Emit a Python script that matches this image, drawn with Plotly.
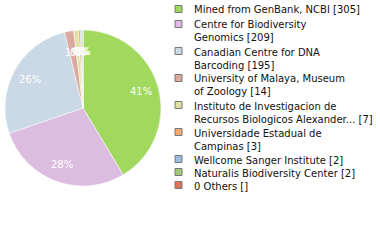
import math
import plotly.graph_objects as go

labels = ["Mined from GenBank, NCBI", "Centre for Biodiversity<br>Genomics",
          "Canadian Centre for DNA<br>Barcoding", "University of Malaya, Museum<br>of Zoology",
          "Instituto de Investigacion de<br>Recursos Biologicos Alexander...",
          "Universidade Estadual de<br>Campinas", "Wellcome Sanger Institute",
          "Naturalis Biodiversity Center", "0 Others"]
values = [305, 209, 195, 14, 7, 3, 2, 2, 0]
counts_txt = ["305", "209", "195", "14", "7", "3", "2", "2", ""]
colors = ["#a0d95e", "#dcbddf", "#cad9e5", "#dca9a1", "#dee2a2", "#f0aa73",
          "#9dbde0", "#a3c97d", "#e0735a"]

total = sum(values)

# pie geometry (pixels)
W, H = 380, 240
CX, CY, R = 83, 108, 78

fig = go.Figure()
fig.add_trace(go.Pie(
    labels=[l.replace("<br>", " ") for l in labels], values=values, sort=False,
    direction="clockwise", rotation=0,
    marker=dict(colors=colors, line=dict(color="white", width=0.5)),
    textinfo="none",
    domain=dict(x=[(CX-R)/W, (CX+R)/W], y=[1-(CY+R)/H, 1-(CY-R)/H]),
    showlegend=False, hoverinfo="label+value",
))

annotations = []
# percentage labels placed along each slice's mid-angle (floored percent)
cum = 0
for v in values:
    if v > 0:
        frac = v / total
        mid = (cum + v / 2) / total * 2 * math.pi
        r = (0.77 if frac > 0.05 else 0.72) * R
        px = CX + r * math.sin(mid)
        py = CY - r * math.cos(mid)
        annotations.append(dict(x=px/W, y=1-py/H, xref="paper", yref="paper",
                                xanchor="center", yanchor="middle", showarrow=False,
                                text=f"{math.floor(100*frac)}%",
                                font=dict(family="DejaVu Sans", size=10, color="white")))
    cum += v

# manual legend
y = 9
shapes = []
for lab, cnt, col in zip(labels, counts_txt, colors):
    nlines = lab.count("<br>") + 1
    shapes.append(dict(type="rect", xref="paper", yref="paper",
                       x0=175/W, x1=182/W, y0=1-(y+3.5)/H, y1=1-(y-3.5)/H,
                       fillcolor=col, line=dict(color="#777777", width=1)))
    annotations.append(dict(x=192/W, y=1-(y-6.5)/H, xref="paper", yref="paper",
                            xanchor="left", yanchor="top", showarrow=False, align="left",
                            text=f"{lab} [{cnt}]",
                            font=dict(family="DejaVu Sans", size=10, color="#111111")))
    y += 15 if nlines == 1 and y < 20 else (27 if nlines == 2 else 13)

fig.update_layout(width=W, height=H, margin=dict(l=0, r=0, t=0, b=0),
                  paper_bgcolor="white", plot_bgcolor="white",
                  shapes=shapes, annotations=annotations)
fig.write_html("out.html")
